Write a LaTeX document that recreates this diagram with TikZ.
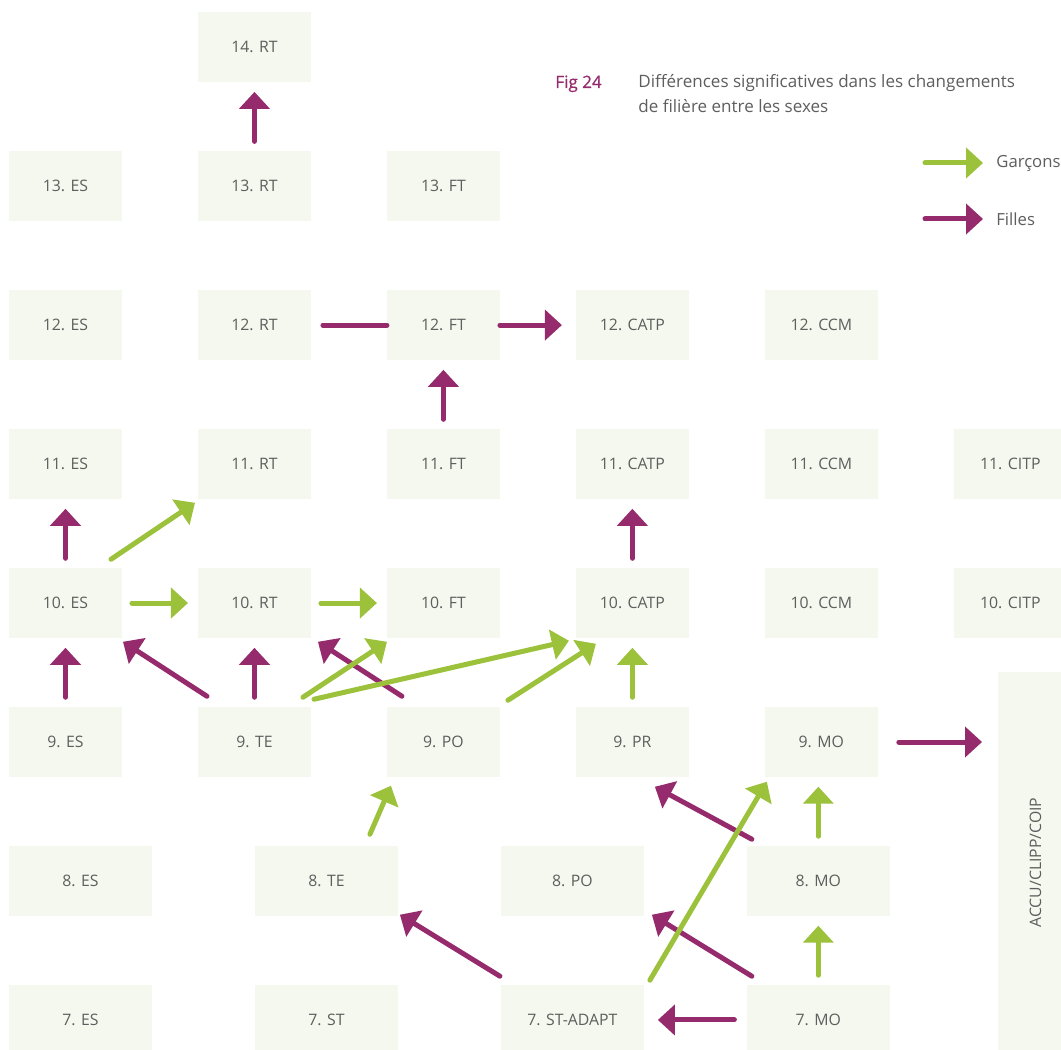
\documentclass[tikz,border=0pt]{standalone}
\usepackage{fontspec}
\setmainfont{Open Sans}
\newfontfamily\figfont[FakeBold=0.6]{Open Sans}
\usepackage{tikz}
\usetikzlibrary{arrows.meta,positioning}

\definecolor{boxfill}{HTML}{F5F8EE}
\definecolor{labelgray}{HTML}{5E5E5E}
\definecolor{garcon}{HTML}{9CC13A}
\definecolor{fille}{HTML}{952B6C}

\begin{document}
\begin{tikzpicture}[x=0.02cm,y=-0.02cm,node distance=1.39cm and 1.52cm,
  box/.style={fill=boxfill,text=labelgray,minimum width=2.26cm,
  minimum height=1.39cm,inner sep=0pt,outer sep=0pt,
  font=\fontsize{9}{11}\selectfont},
  widebox/.style={box,minimum width=2.86cm},
  pil/.style={line width=0.1cm,line cap=round,
  -{Triangle[width=0.6cm,length=0.34cm]}},
  gar/.style={pil,draw=garcon},
  fil/.style={pil,draw=fille},
  spaced/.style={shorten <=0.2cm,shorten >=0.2cm},
  captext/.style={anchor=base west,inner sep=0pt,text=labelgray,
  font=\fontsize{9.7}{13}\selectfont},
  legtext/.style={anchor=west,inner sep=0pt,text=labelgray,
  font=\fontsize{9.5}{13}\selectfont}]

  \path[use as bounding box,fill=white] (0,0) rectangle (1061,1050);
  \clip (0,0) rectangle (1061,1050);

  % row 9
  \node[box] (9ES) at (65.5,742) {9. ES};
  \node[box] (9TE) [right=of 9ES] {9. TE};
  \node[box] (9PO) [right=of 9TE] {9. PO};
  \node[box] (9PR) [right=of 9PO] {9. PR};
  \node[box] (9MO) [right=of 9PR] {9. MO};

  % row 10
  \node[box] (10ES) [above=of 9ES] {10. ES};
  \node[box] (10RT) [right=of 10ES] {10. RT};
  \node[box] (10FT) [right=of 10RT] {10. FT};
  \node[box] (10CATP) [right=of 10FT] {10. CATP};
  \node[box] (10CCM) [right=of 10CATP] {10. CCM};
  \node[box] (10CITP) [right=of 10CCM] {10. CITP};

  % row 11
  \node[box] (11ES) [above=of 10ES] {11. ES};
  \node[box] (11RT) [right=of 11ES] {11. RT};
  \node[box] (11FT) [right=of 11RT] {11. FT};
  \node[box] (11CATP) [right=of 11FT] {11. CATP};
  \node[box] (11CCM) [right=of 11CATP] {11. CCM};
  \node[box] (11CITP) [right=of 11CCM] {11. CITP};

  % row 12
  \node[box] (12ES) [above=of 11ES] {12. ES};
  \node[box] (12RT) [right=of 12ES] {12. RT};
  \node[box] (12FT) [right=of 12RT] {12. FT};
  \node[box] (12CATP) [right=of 12FT] {12. CATP};
  \node[box] (12CCM) [right=of 12CATP] {12. CCM};

  % rows 13 and 14
  \node[box] (13ES) [above=of 12ES] {13. ES};
  \node[box] (13RT) [right=of 13ES] {13. RT};
  \node[box] (13FT) [right=of 13RT] {13. FT};
  \node[box] (14RT) [above=of 13RT] {14. RT};

  % rows 8 and 7
  \node[widebox] (8ES) [below=of 9ES.south west,anchor=north west] {8. ES};
  \node[widebox] (8TE) [right=2.06cm of 8ES] {8. TE};
  \node[widebox] (8PO) [right=2.06cm of 8TE] {8. PO};
  \node[widebox] (8MO) [right=2.06cm of 8PO] {8. MO};
  \node[widebox] (7ES) [below=of 8ES] {7. ES};
  \node[widebox] (7ST) [right=2.06cm of 7ES] {7. ST};
  \node[widebox] (7STA) [right=2.06cm of 7ST] {7. ST-ADAPT};
  \node[widebox] (7MO) [right=2.06cm of 7STA] {7. MO};

  \node[box,minimum width=1.5cm,minimum height=7.62cm] (accu)
    at (1035.5,862.5) {\rotatebox{90}{ACCU/CLIPP/COIP}};

  % title
  \node[captext,text=fille,font=\fontsize{9.7}{13}\figfont] (fig) at (555,88) {Fig 24};
  \node[captext] (caption) at (638,88)
    {Différences significatives dans les changements};
  \node[captext] (caption2) at (638,112.5) {de filière entre les sexes};

  % legend
  \node[legtext] (garcons) at (996,163) {Garçons};
  \node[legtext] (filles) at (996,219) {Filles};
  \coordinate (garconstail) at (925,163);
  \coordinate (fillestail) at (925,219);
  \draw[gar,shorten >=0.26cm] (garconstail) -- (garcons.west);
  \draw[fil,shorten >=0.26cm] (fillestail) -- (filles.west);

  % Filles
  \draw[fil,spaced] (13RT) -- (14RT);
  \draw[fil,-,shorten <=0.24cm] (12RT) -- (12FT);
  \draw[fil,shorten >=0.28cm] (12FT) -- (12CATP);
  \draw[fil,spaced] (11FT) -- (12FT);
  \draw[fil,spaced] (10ES) -- (11ES);
  \draw[fil,spaced] (10CATP) -- (11CATP);
  \draw[fil,spaced] (9ES) -- (10ES);
  \draw[fil] ([shift={(9,-11)}]9TE.north west) -- ([shift={(1,4)}]10ES.south east);
  \draw[fil,spaced] (9TE) -- (10RT);
  \draw[fil] ([shift={(15,-11)}]9PO.north west) -- ([shift={(7,4)}]10RT.south east);
  \draw[fil,shorten <=0.42cm,shorten >=0.32cm] (9MO.east) -- (9MO.east -| accu.west);
  \draw[fil] ([shift={(5,-7)}]8MO.north west) -- ([shift={(22.5,10)}]9PR.south);
  \draw[fil] ([shift={(-1,-9)}]7STA.north west) -- ([shift={(2,-1)}]8TE.south east);
  \draw[fil] ([shift={(5,-9)}]7MO.north west) -- ([shift={(8,-1)}]8PO.south east);
  \draw[fil,shorten <=0.25cm,shorten >=0.28cm] (7MO) -- (7STA);

  % Garcons
  \draw[gar] ([shift={(-11,-9)}]10ES.north east) -- ([shift={(-3,4)}]11RT.south west);
  \draw[gar,spaced] (10ES) -- (10RT);
  \draw[gar,spaced] (10RT) -- (10FT);
  \draw[gar] ([shift={(-8,-10)}]9TE.north east) -- ([shift={(0,4)}]10FT.south west);
  \draw[gar] ([shift={(3,-8)}]9TE.north east) -- ([shift={(-7,3)}]10CATP.south west);
  \draw[gar] ([shift={(8,-7)}]9PO.north east) -- ([shift={(20,6)}]10CATP.south west);
  \draw[gar,spaced] (9PR) -- (10CATP);
  \draw[gar] ([shift={(-28,-12)}]8TE.north east) -- ([shift={(4,9)}]9PO.south west);
  \draw[gar] ([shift={(6,-5)}]7STA.north east) -- ([shift={(2,5)}]9MO.south west);
  \draw[gar,spaced] (8MO.north) -- (8MO.north |- 9MO.south);
  \draw[gar,spaced] (7MO) -- (8MO);
\end{tikzpicture}
\end{document}
